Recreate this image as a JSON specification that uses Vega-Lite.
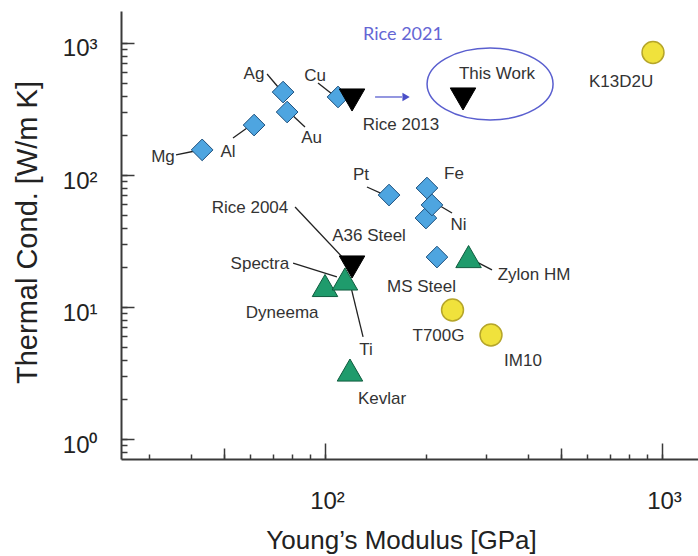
{
  "$schema": "https://vega.github.io/schema/vega-lite/v6.json",
  "width": 577,
  "height": 448,
  "autosize": {"type": "none"},
  "padding": {"left": 121, "top": 11, "right": 0, "bottom": 97},
  "background": "white",
  "config": {"view": {"stroke": null}, "font": "Liberation Sans"},
  "datasets": {
    "points": [
      {"name": "Mg", "group": "metal", "E": 43.2, "k": 155},
      {"name": "Al", "group": "metal", "E": 61.6, "k": 239},
      {"name": "Ag", "group": "metal", "E": 75.1, "k": 425},
      {"name": "Au", "group": "metal", "E": 77.2, "k": 300},
      {"name": "Cu", "group": "metal", "E": 109.3, "k": 390},
      {"name": "Pt", "group": "metal", "E": 154.9, "k": 70.5},
      {"name": "Fe", "group": "metal", "E": 200.7, "k": 79.7},
      {"name": "A36 Steel", "group": "metal", "E": 199.3, "k": 47.2},
      {"name": "Ni", "group": "metal", "E": 207.7, "k": 59.3},
      {"name": "MS Steel", "group": "metal", "E": 214.9, "k": 23.9},
      {"name": "Rice 2013", "group": "rice", "E": 120.3, "k": 370},
      {"name": "This Work", "group": "rice", "E": 256.8, "k": 376.6},
      {"name": "Rice 2004", "group": "rice", "E": 120.3, "k": 20.1},
      {"name": "Dyneema", "group": "fiber", "E": 100, "k": 14.55},
      {"name": "Spectra", "group": "fiber", "E": 114.6, "k": 16.3},
      {"name": "Kevlar", "group": "fiber", "E": 118.6, "k": 3.33},
      {"name": "Zylon HM", "group": "fiber", "E": 266.7, "k": 24.1},
      {"name": "T700G", "group": "carbon", "E": 239, "k": 9.49},
      {"name": "IM10", "group": "carbon", "E": 310.9, "k": 6.14},
      {"name": "K13D2U", "group": "carbon", "E": 940.5, "k": 847}
    ],
    "labels": [
      {"text": "Mg", "E": 33.06, "k": 136.9},
      {"text": "Al", "E": 51.55, "k": 149.4},
      {"text": "Ag", "E": 61.56, "k": 582.3},
      {"text": "Au", "E": 91.2, "k": 192.3},
      {"text": "Cu", "E": 93.4, "k": 562.3},
      {"text": "Rice 2013", "E": 168.1, "k": 239.2},
      {"text": "This Work", "E": 323.9, "k": 587.4},
      {"text": "K13D2U", "E": 755.9, "k": 510.9},
      {"text": "Pt", "E": 127.9, "k": 100},
      {"text": "Fe", "E": 241.5, "k": 102.6},
      {"text": "Ni", "E": 248.9, "k": 41.8},
      {"text": "A36 Steel", "E": 135.1, "k": 34.5},
      {"text": "Rice 2004", "E": 59.9, "k": 56.2},
      {"text": "Spectra", "E": 64.1, "k": 21.0},
      {"text": "Dyneema", "E": 74.6, "k": 8.93},
      {"text": "Ti", "E": 132.3, "k": 4.72},
      {"text": "Kevlar", "E": 147.6, "k": 2.01},
      {"text": "MS Steel", "E": 193.4, "k": 14.3},
      {"text": "Zylon HM", "E": 417.1, "k": 17.5},
      {"text": "T700G", "E": 217.2, "k": 6.03},
      {"text": "IM10", "E": 386.9, "k": 3.9}
    ],
    "leaders": [
      {"for": "Mg", "E": 36.13, "k": 141.8, "E2": 41.14, "k2": 152.0},
      {"for": "Al", "E": 53.33, "k": 190.7, "E2": 58.69, "k2": 227.0},
      {"for": "Ag", "E": 67.3, "k": 582.3, "E2": 72.55, "k2": 464.2},
      {"for": "Au", "E": 78.74, "k": 294.9, "E2": 87.23, "k2": 231.0},
      {"for": "Cu", "E": 95.33, "k": 497.7, "E2": 104.9, "k2": 410.8},
      {"for": "Pt", "E": 133.2, "k": 81.1, "E2": 150.7, "k2": 70.5},
      {"for": "Ni", "E": 238.2, "k": 51.5, "E2": 212.1, "k2": 61.4},
      {"for": "Rice 2004", "E": 81.5, "k": 57.2, "E2": 116.2, "k2": 21.9},
      {"for": "Spectra", "E": 80.4, "k": 21.5, "E2": 108.5, "k2": 16.9},
      {"for": "Ti", "E": 129.7, "k": 5.93, "E2": 117.0, "k2": 17.5},
      {"for": "Zylon HM", "E": 313.0, "k": 19.1, "E2": 282.5, "k2": 21.9}
    ],
    "arrow": [{"E": 140.8, "E2": 169.2, "k": 389.9, "Ehead": 174.0}],
    "ellipse": [{"E": 308.9, "k": 489.1}],
    "note": [{"text": "Rice 2021", "E": 170.4, "k": 1150}]
  },
  "resolve": {"axis": {"x": "independent", "y": "independent"}},
  "layer": [
    {
      "encoding": {
        "x": {
          "field": "E", "type": "quantitative",
          "scale": {"type": "log", "domain": [24.81, 1279], "nice": false, "zero": false},
          "axis": {
            "orient": "bottom",
            "title": "Young’s Modulus [GPa]",
            "grid": false,
            "values": [30, 40, 50, 60, 70, 80, 90, 100, 200, 300, 400, 500, 600, 700, 800, 900, 1000],
            "domainColor": "#3a3a3a", "domainWidth": 2,
            "tickColor": "#3a3a3a", "tickWidth": 1.5, "tickSize": -5,
            "labelExpr": "abs(log(datum.value)/LN10 - round(log(datum.value)/LN10)) < 1e-6 ? '10' + ['⁰','¹','²','³'][round(log(datum.value)/LN10)] : ''",
            "labelFont": "Liberation Sans", "labelFontSize": 24, "labelColor": "#222",
            "labelPadding": 35, "labelBaseline": "top", "labelFlush": false, "labelOverlap": false, "labelOffset": 2,
            "titleFont": "Liberation Sans", "titleFontSize": 26, "titleFontWeight": "normal", "titleColor": "#222",
            "titleX": 280, "titleY": 89, "titleBaseline": "alphabetic", "titleAlign": "center", "titleAnchor": null
          }
        },
        "y": {
          "field": "k", "type": "quantitative",
          "scale": {"type": "log", "domain": [0.7056, 1747.5], "nice": false, "zero": false},
          "axis": {
            "orient": "left",
            "title": "Thermal Cond. [W/m K]",
            "grid": false,
            "values": [0.8, 0.9, 1, 2, 3, 4, 5, 6, 7, 8, 9, 10, 20, 30, 40, 50, 60, 70, 80, 90, 100, 200, 300, 400, 500, 600, 700, 800, 900, 1000],
            "domainColor": "#3a3a3a", "domainWidth": 2,
            "tickColor": "#3a3a3a", "tickWidth": 1.5, "tickSize": -6,
            "labelExpr": "abs(log(datum.value)/LN10 - round(log(datum.value)/LN10)) < 1e-6 ? '10' + ['⁰','¹','²','³'][round(log(datum.value)/LN10)] : ''",
            "labelFont": "Liberation Sans", "labelFontSize": 24, "labelColor": "#222",
            "labelPadding": 30, "labelAlign": "right", "labelBaseline": "middle", "labelOffset": 6,
            "labelFlush": false, "labelOverlap": false,
            "titleFont": "Liberation Sans", "titleFontSize": 29, "titleFontWeight": "normal", "titleColor": "#222",
            "titleX": -85, "titleY": 221, "titleAngle": -90, "titleBaseline": "alphabetic", "titleAlign": "center", "titleAnchor": null
          }
        }
      },
      "layer": [
        {
          "mark": {"type": "rule", "color": "#3a3a3a", "strokeWidth": 2},
          "encoding": {"x": null, "y": {"datum": 1747.5}}
        },
        {
          "data": {"name": "ellipse"},
          "mark": {"type": "point", "shape": "M -1,0 A 1,0.571 0 1,1 1,0 A 1,0.571 0 1,1 -1,0 Z", "size": 15876, "filled": false, "stroke": "#5a5fcf", "strokeWidth": 1.5, "opacity": 1}
        },
        {
          "data": {"name": "leaders"},
          "mark": {"type": "rule", "color": "#222", "strokeWidth": 1.3},
          "encoding": {"x2": {"field": "E2"}, "y2": {"field": "k2"}}
        },
        {
          "data": {"name": "arrow"},
          "mark": {"type": "rule", "color": "#5a5fcf", "strokeWidth": 1.3},
          "encoding": {"x2": {"field": "E2"}}
        },
        {
          "data": {"name": "arrow"},
          "mark": {"type": "point", "shape": "triangle-right", "size": 70, "filled": true, "fill": "#4a4fc8", "opacity": 1},
          "encoding": {"x": {"field": "Ehead", "type": "quantitative"}}
        },
        {
          "data": {"name": "points"},
          "transform": [{"filter": "datum.group === 'metal'"}],
          "mark": {"type": "point", "shape": "diamond", "size": 470, "filled": true, "fill": "#4ea5e0", "stroke": "#1d4f7c", "strokeWidth": 1, "opacity": 1}
        },
        {
          "data": {"name": "points"},
          "transform": [{"filter": "datum.group === 'rice'"}],
          "mark": {"type": "point", "shape": "triangle-down", "size": 650, "filled": true, "fill": "#000000", "stroke": "#000000", "strokeWidth": 1, "opacity": 1}
        },
        {
          "data": {"name": "points"},
          "transform": [{"filter": "datum.group === 'fiber'"}],
          "mark": {"type": "point", "shape": "triangle-up", "size": 650, "filled": true, "fill": "#1f9b6c", "stroke": "#0f5c3e", "strokeWidth": 1, "opacity": 1}
        },
        {
          "data": {"name": "points"},
          "transform": [{"filter": "datum.group === 'carbon'"}],
          "mark": {"type": "point", "shape": "circle", "size": 480, "filled": true, "fill": "#f0e23c", "stroke": "#b5a52a", "strokeWidth": 1.5, "opacity": 1}
        },
        {
          "data": {"name": "labels"},
          "mark": {"type": "text", "font": "Liberation Sans", "fontSize": 17, "color": "#333333", "align": "center", "baseline": "middle"},
          "encoding": {"text": {"field": "text"}}
        },
        {
          "data": {"name": "note"},
          "mark": {"type": "text", "font": "Lato", "fontSize": 18, "color": "#6466d4", "align": "center", "baseline": "middle"},
          "encoding": {"text": {"field": "text"}}
        }
      ]
    },
    {
      "data": {"name": "ellipse"},
      "mark": {"type": "point", "opacity": 0, "size": 1},
      "encoding": {
        "x": {
          "field": "E", "type": "quantitative",
          "scale": {"type": "log", "domain": [24.81, 1279], "nice": false, "zero": false},
          "axis": {"orient": "bottom", "title": null, "labels": false, "domain": false, "grid": false, "values": [100, 1000], "tickColor": "#3a3a3a", "tickWidth": 1.5, "tickSize": -16}
        },
        "y": {
          "field": "k", "type": "quantitative",
          "scale": {"type": "log", "domain": [0.7056, 1747.5], "nice": false, "zero": false},
          "axis": {"orient": "left", "title": null, "labels": false, "domain": false, "grid": false, "values": [1, 10, 100, 1000], "tickColor": "#3a3a3a", "tickWidth": 1.5, "tickSize": -13}
        }
      }
    },
    {
      "data": {"name": "ellipse"},
      "mark": {"type": "point", "opacity": 0, "size": 1},
      "encoding": {
        "x": {
          "field": "E", "type": "quantitative",
          "scale": {"type": "log", "domain": [24.81, 1279], "nice": false, "zero": false},
          "axis": {"orient": "bottom", "title": null, "labels": false, "domain": false, "grid": false, "values": [50, 500], "tickColor": "#3a3a3a", "tickWidth": 1.5, "tickSize": -11}
        },
        "y": {
          "field": "k", "type": "quantitative",
          "scale": {"type": "log", "domain": [0.7056, 1747.5], "nice": false, "zero": false},
          "axis": null
        }
      }
    }
  ]
}
